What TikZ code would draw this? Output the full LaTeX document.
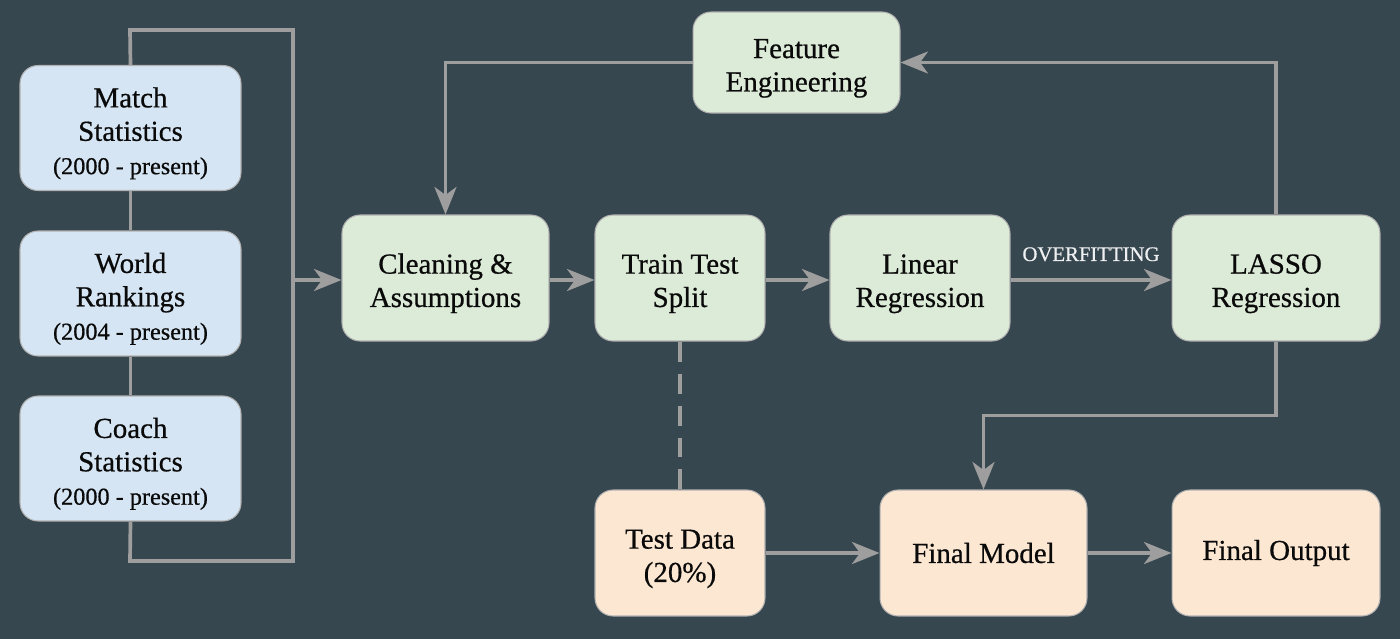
\documentclass[tikz,border=0pt]{standalone}
\usepackage{fontspec}
\setmainfont{Liberation Serif}[FakeBold=0.6]
\usetikzlibrary{arrows.meta,positioning}
\definecolor{bg}{HTML}{37474F}
\definecolor{bluebox}{HTML}{D5E5F3}
\definecolor{greenbox}{HTML}{DCEAD8}
\definecolor{orangebox}{HTML}{FCE7D2}
\definecolor{conn}{HTML}{9E9E9E}
\definecolor{txt}{HTML}{0A0A0A}
\tikzset{
  box/.style={draw=conn!80!white, line width=0.6pt, rounded corners=0.36cm, text=txt,
    align=center, font=\fontsize{16.5}{19}\selectfont, inner sep=0pt},
  src/.style={box, fill=bluebox, minimum width=4.42cm, minimum height=2.5cm},
  proc/.style={box, fill=greenbox, minimum height=2.52cm},
  outb/.style={box, fill=orangebox, minimum height=2.52cm},
  conn/.style={draw=conn, line width=2.1pt},
  arr/.style={conn, -{Stealth[length=0.55cm, width=0.44cm, inset=0.16cm]}}
}
\newcommand{\yrs}[1]{{\fontsize{13.8}{17.5}\selectfont #1}}
\newcommand{\tp}{\rule{0pt}{17.5pt}}
\begin{document}
\begin{tikzpicture}[x=0.02cm,y=-0.02cm]
\fill[bg] (0,0) rectangle (1400,639);
\useasboundingbox (0,0) rectangle (1400,639);
% sources
\node[src] (match) at (130.5,128) {\tp Match\\Statistics\\\yrs{(2000 - present)}};
\node[src] (world) at (130.5,293.5) {\tp World\\Rankings\\\yrs{(2004 - present)}};
\node[src] (coach) at (130.5,458.5) {\tp Coach\\Statistics\\\yrs{(2000 - present)}};
% process
\node[proc, minimum width=4.14cm] (clean) at (445.5,278) {\tp Cleaning \&\\Assumptions};
\node[proc, minimum width=3.4cm] (split) at (680,278) {\tp Train Test\\Split};
\node[proc, minimum width=3.6cm] (linear) at (920,278) {\tp Linear\\Regression};
\node[proc, minimum width=4.16cm] (lasso) at (1276,278) {\tp LASSO\\Regression};
\node[proc, minimum width=4.14cm, minimum height=2.02cm] (feat) at (796.5,62.5) {\tp Feature\\Engineering};
% outputs
\node[outb, minimum width=3.4cm] (test) at (680,553) {\tp Test Data\\(20\%)};
\node[outb, minimum width=4.14cm] (model) at (983.5,553) {Final Model};
\node[outb, minimum width=4.16cm] (output) at (1276,553) {Final Output};
% coordinates
\coordinate (tl) at (130,30);
\coordinate (tr) at (293,30);
\coordinate (br) at (293,561);
\coordinate (bl) at (130,561);
\coordinate (mid) at (293,280);
% bracket
\draw[conn] (match.north) -- (tl) -- (tr) -- (br) -- (bl) -- (coach.south);
\draw[conn] (match.south) -- (world.north);
\draw[conn] (world.south) -- (coach.north);
\draw[arr] (mid) -- (clean.west |- mid);
% main flow
\draw[arr] (clean.east |- 0,280) -- (split.west |- 0,280);
\draw[arr] (split.east |- 0,280) -- (linear.west |- 0,280);
\draw[arr] (linear.east |- 0,280) -- node[above=0.22cm, text=white!92!bg, font=\fontsize{11.8}{13}\selectfont] {OVERFITTING} (lasso.west |- 0,280);
\draw[arr] (lasso.north) |- (feat.east);
\draw[arr] (feat.west) -| (clean.north);
\draw[arr] (lasso.south) -- ++(0,74) -| (model.north);
\draw[conn, dash pattern=on 0.4cm off 0.24cm] (split.south) -- (test.north);
\draw[arr] (test.east) -- (model.west);
\draw[arr] (model.east) -- (output.west);
\end{tikzpicture}
\end{document}
